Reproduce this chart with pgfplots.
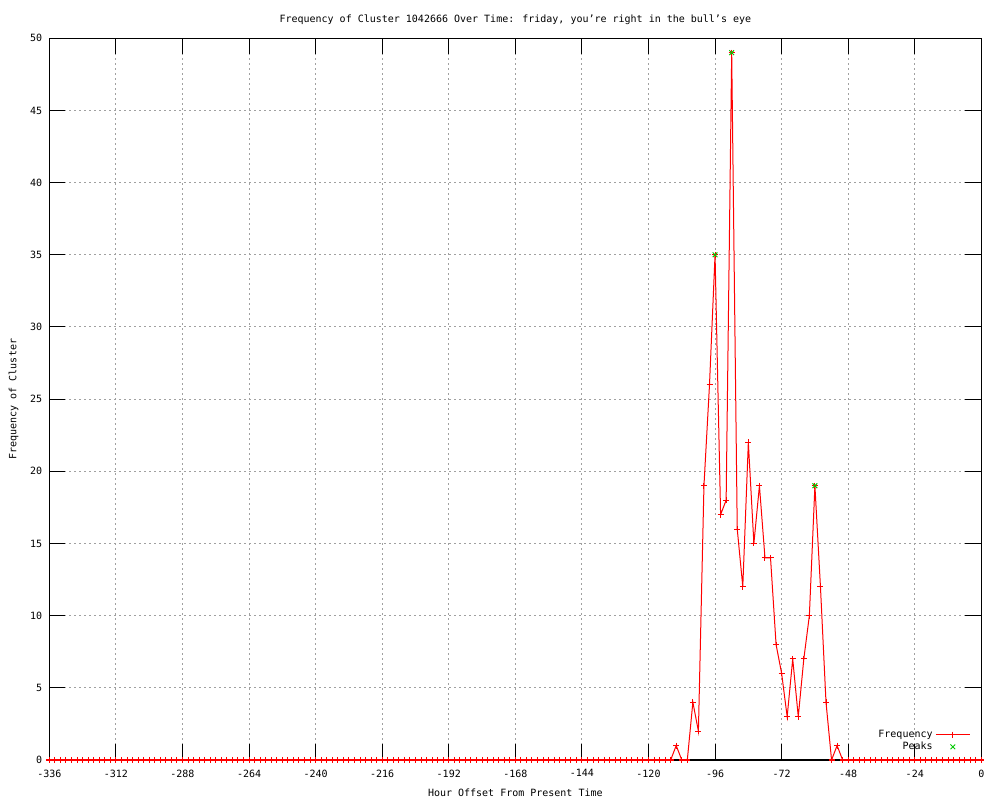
\documentclass[border=0pt]{standalone}
\usepackage{fontspec}
\setmainfont{DejaVu Sans Mono}
\usepackage{pgfplots}
\pgfplotsset{compat=1.18}
\definecolor{gpgreen}{RGB}{0,200,0}
\definecolor{gpgrid}{RGB}{160,160,160}
\begin{document}
\fontsize{7.5}{9}\selectfont
\begin{tikzpicture}
\useasboundingbox (0,0) rectangle (750pt,600pt);
\begin{axis}[
  at={(37pt,30pt)}, anchor=south west,
  scale only axis,
  width=699pt, height=541.3pt,
  xmin=-336, xmax=0, ymin=0, ymax=50,
  xtick={-336,-312,...,0},
  ytick={0,5,...,50},
  clip=false,
  axis line style={black, line width=0.75pt},
  tick style={black, line width=0.75pt},
  major tick length=12pt,
  tick align=inside,
  xtick pos=both, ytick pos=both,
  grid=major,
  major grid style={gpgrid, line width=0.75pt, dash pattern=on 1.5pt off 2.25pt},
  /pgf/number format/assume math mode=true,
  /pgf/number format/.cd, 1000 sep={}, /pgfplots/.cd,
  tick label style={font=\fontsize{7.5}{9}\selectfont},
  yticklabel style={inner sep=0pt, xshift=-5.25pt},
  xticklabel style={inner sep=0pt, yshift=-7pt},
  label style={font=\fontsize{7.5}{9}\selectfont},
  xlabel={Hour Offset From Present Time},
  xlabel style={at={(axis description cs:0.5,0)}, anchor=center, yshift=-24.75pt},
  ylabel={Frequency of Cluster},
  ylabel style={at={(axis description cs:-0.0384,0.5)}, anchor=center},
  title={Frequency of Cluster 1042666 Over Time: friday, you’re right in the bull’s eye},
  title style={at={(axis description cs:0.5,1.014)}, anchor=center, font=\fontsize{7.5}{9}\selectfont},
  legend plot pos=right,
  legend cell align=right,
  legend style={draw=none, fill=none, at={(0.99,0.006)}, anchor=south east,
    font=\fontsize{7.5}{9}\selectfont, row sep=-1.5pt, inner sep=1pt},
  legend image code/.code={%
    \draw[#1, mark=none] plot coordinates {(0cm,0cm) (0.9cm,0cm)};
    \draw[#1, only marks] plot coordinates {(0.45cm,0cm)};},
]
\addplot[red, line width=0.75pt, mark=+, mark size=2.25pt, mark options={line width=0.75pt}] coordinates {
(-336,0) (-334,0) (-332,0) (-330,0) (-328,0) (-326,0) (-324,0) (-322,0) (-320,0) (-318,0)
(-316,0) (-314,0) (-312,0) (-310,0) (-308,0) (-306,0) (-304,0) (-302,0) (-300,0) (-298,0)
(-296,0) (-294,0) (-292,0) (-290,0) (-288,0) (-286,0) (-284,0) (-282,0) (-280,0) (-278,0)
(-276,0) (-274,0) (-272,0) (-270,0) (-268,0) (-266,0) (-264,0) (-262,0) (-260,0) (-258,0)
(-256,0) (-254,0) (-252,0) (-250,0) (-248,0) (-246,0) (-244,0) (-242,0) (-240,0) (-238,0)
(-236,0) (-234,0) (-232,0) (-230,0) (-228,0) (-226,0) (-224,0) (-222,0) (-220,0) (-218,0)
(-216,0) (-214,0) (-212,0) (-210,0) (-208,0) (-206,0) (-204,0) (-202,0) (-200,0) (-198,0)
(-196,0) (-194,0) (-192,0) (-190,0) (-188,0) (-186,0) (-184,0) (-182,0) (-180,0) (-178,0)
(-176,0) (-174,0) (-172,0) (-170,0) (-168,0) (-166,0) (-164,0) (-162,0) (-160,0) (-158,0)
(-156,0) (-154,0) (-152,0) (-150,0) (-148,0) (-146,0) (-144,0) (-142,0) (-140,0) (-138,0)
(-136,0) (-134,0) (-132,0) (-130,0) (-128,0) (-126,0) (-124,0) (-122,0) (-120,0) (-118,0)
(-116,0) (-114,0) (-112,0) (-110,1) (-108,0) (-106,0) (-104,4) (-102,2) (-100,19) (-98,26)
(-96,35) (-94,17) (-92,18) (-90,49) (-88,16) (-86,12) (-84,22) (-82,15) (-80,19) (-78,14)
(-76,14) (-74,8) (-72,6) (-70,3) (-68,7) (-66,3) (-64,7) (-62,10) (-60,19) (-58,12)
(-56,4) (-54,0) (-52,1) (-50,0) (-48,0) (-46,0) (-44,0) (-42,0) (-40,0) (-38,0)
(-36,0) (-34,0) (-32,0) (-30,0) (-28,0) (-26,0) (-24,0) (-22,0) (-20,0) (-18,0)
(-16,0) (-14,0) (-12,0) (-10,0) (-8,0) (-6,0) (-4,0) (-2,0) (0,0)
};
\addlegendentry{Frequency}
\addplot[gpgreen, only marks, mark=x, mark size=2.5pt, mark options={line width=0.75pt}] coordinates {
(-96,35) (-90,49) (-60,19)
};
\addlegendentry{Peaks}
\end{axis}
\end{tikzpicture}
\end{document}
